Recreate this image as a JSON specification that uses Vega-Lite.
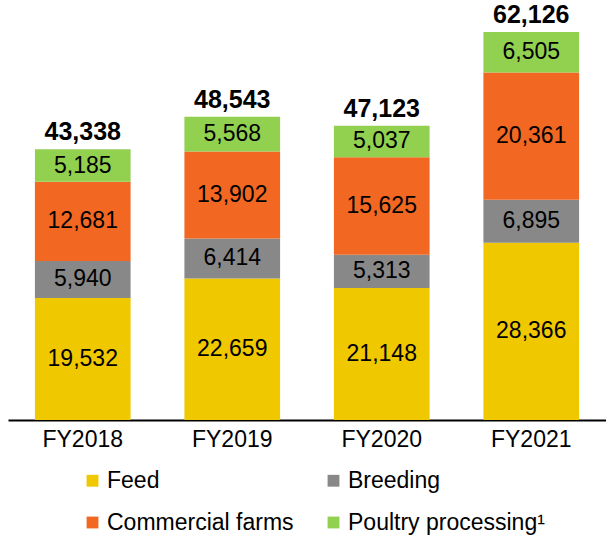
{
  "$schema": "https://vega.github.io/schema/vega-lite/v6.json",
  "autosize": {"type": "none"},
  "padding": {"left": 8, "top": 0, "right": 0, "bottom": 121},
  "width": 598,
  "height": 420,
  "background": "white",
  "config": {
    "view": {"stroke": null},
    "font": "Liberation Sans",
    "text": {"font": "Liberation Sans"}
  },
  "datasets": {
    "segments": [
      {"year": "FY2018", "segment": "Feed", "ord": 1, "value": 19532},
      {"year": "FY2018", "segment": "Breeding", "ord": 2, "value": 5940},
      {"year": "FY2018", "segment": "Commercial farms", "ord": 3, "value": 12681},
      {"year": "FY2018", "segment": "Poultry processing", "ord": 4, "value": 5185},
      {"year": "FY2019", "segment": "Feed", "ord": 1, "value": 22659},
      {"year": "FY2019", "segment": "Breeding", "ord": 2, "value": 6414},
      {"year": "FY2019", "segment": "Commercial farms", "ord": 3, "value": 13902},
      {"year": "FY2019", "segment": "Poultry processing", "ord": 4, "value": 5568},
      {"year": "FY2020", "segment": "Feed", "ord": 1, "value": 21148},
      {"year": "FY2020", "segment": "Breeding", "ord": 2, "value": 5313},
      {"year": "FY2020", "segment": "Commercial farms", "ord": 3, "value": 15625},
      {"year": "FY2020", "segment": "Poultry processing", "ord": 4, "value": 5037},
      {"year": "FY2021", "segment": "Feed", "ord": 1, "value": 28366},
      {"year": "FY2021", "segment": "Breeding", "ord": 2, "value": 6895},
      {"year": "FY2021", "segment": "Commercial farms", "ord": 3, "value": 20361},
      {"year": "FY2021", "segment": "Poultry processing", "ord": 4, "value": 6505}
    ],
    "totals": [
      {"year": "FY2018", "total": 43338},
      {"year": "FY2019", "total": 48543},
      {"year": "FY2020", "total": 47123},
      {"year": "FY2021", "total": 62126}
    ]
  },
  "encoding": {
    "x": {
      "field": "year", "type": "nominal", "title": null,
      "scale": {"domain": ["FY2018", "FY2019", "FY2020", "FY2021"], "paddingInner": 0.36, "paddingOuter": 0.18},
      "axis": {
        "labelAngle": 0, "labelFontSize": 23, "labelColor": "black", "labelPadding": 8,
        "ticks": false, "domainColor": "black", "domainWidth": 2, "grid": false
      }
    }
  },
  "layer": [
    {
      "data": {"name": "segments"},
      "transform": [
        {"stack": "value", "groupby": ["year"], "sort": [{"field": "ord", "order": "ascending"}], "as": ["y0", "y1"]},
        {"calculate": "(datum.y0 + datum.y1) / 2", "as": "ymid"}
      ],
      "layer": [
        {
          "mark": {"type": "bar"},
          "encoding": {
            "y": {"field": "y0", "type": "quantitative", "scale": {"domain": [0, 67250], "nice": false, "zero": true}, "axis": null},
            "y2": {"field": "y1"},
            "color": {
              "field": "segment", "type": "nominal",
              "scale": {
                "domain": ["Feed", "Breeding", "Commercial farms", "Poultry processing"],
                "range": ["#EFC800", "#888888", "#F26722", "#92D050"]
              },
              "legend": {
                "title": null, "orient": "none", "legendX": 73, "legendY": 469,
                "direction": "horizontal", "columns": 2, "columnPadding": 28, "rowPadding": 18,
                "symbolType": "square", "symbolSize": 140, "symbolStrokeWidth": 0, "symbolOpacity": 1,
                "labelFontSize": 23, "labelColor": "black", "labelOffset": 3, "padding": 0,
                "labelLimit": 400,
                "labelExpr": "datum.label == 'Poultry processing' ? 'Poultry processing¹' : datum.label"
              }
            }
          }
        },
        {
          "mark": {"type": "text", "fontSize": 23, "color": "black", "baseline": "middle"},
          "encoding": {
            "y": {"field": "ymid", "type": "quantitative"},
            "text": {"field": "value", "type": "quantitative", "format": ",d"}
          }
        }
      ]
    },
    {
      "data": {"name": "totals"},
      "mark": {"type": "text", "fontSize": 25, "fontWeight": "bold", "color": "black", "baseline": "bottom", "dy": -4},
      "encoding": {
        "y": {"field": "total", "type": "quantitative"},
        "text": {"field": "total", "type": "quantitative", "format": ",d"}
      }
    }
  ]
}
